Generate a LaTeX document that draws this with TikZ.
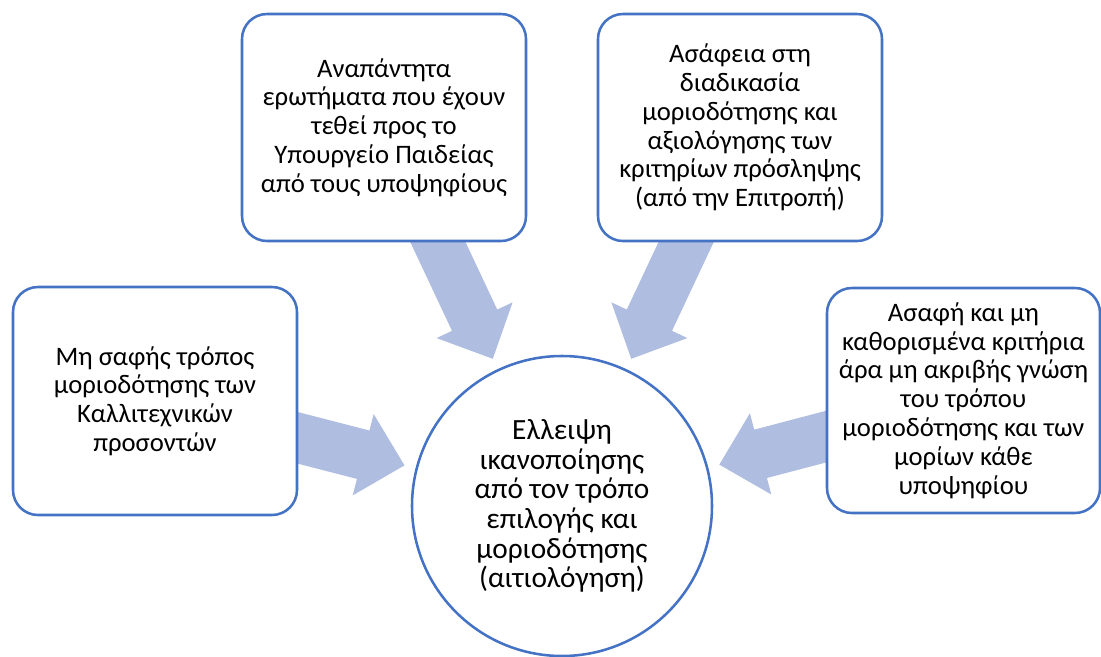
\documentclass[tikz,border=0pt]{standalone}
\usepackage{fontspec}
\setmainfont{Carlito}
\usetikzlibrary{calc}
\usetikzlibrary{positioning}
\usetikzlibrary{backgrounds}
\definecolor{frame}{RGB}{68,114,196}
\definecolor{flowfill}{RGB}{175,189,224}
\tikzset{
  cause/.style={
    draw=frame, line width=1.9pt,
    fill=white,
    rounded corners=18.75pt,
    align=center,
    inner sep=0pt,
    minimum width=213pt,
    minimum height=171pt,
    font=\fontsize{20pt}{21.6pt}\selectfont
  },
  outcome/.style={
    draw=frame, line width=1.9pt,
    fill=white,
    circle,
    align=center,
    inner sep=0pt,
    minimum size=225pt,
    font=\fontsize{22pt}{22.2pt}\selectfont
  },
  flow/.style={fill=flowfill, draw=none}
}
% block arrow pointing from a cause box towards the hub
\newcommand\flowarrow[2]{%
  \coordinate (tip) at ($(#2)!122pt!(#1)$);
  \coordinate (neck) at ($(#2)!154pt!(#1)$);
  \fill[flow] (tip)
    -- ($(neck)!31.5pt!90:(#1)$) -- ($(neck)!18.75pt!90:(#1)$)
    -- ($(#1)!18.75pt!-90:(#2)$) -- ($(#1)!18.75pt!90:(#2)$)
    -- ($(neck)!18.75pt!-90:(#1)$) -- ($(neck)!31.5pt!-90:(#1)$)
    -- cycle;
}

\begin{document}
\begin{tikzpicture}[x=0.75pt,y=-0.75pt]
  \useasboundingbox (0,0) rectangle (1101,657);

  \node (hub) [outcome] at (562,506)
    {Ελλειψη\\ικανοποίησης\\από τον τρόπο\\επιλογής και\\μοριοδότησης\\(αιτιολόγηση)};
  \node (artistic) [cause] at (155,401)
    {Μη σαφής τρόπος\\μοριοδότησης των\\Καλλιτεχνικών\\προσοντών};
  \node (unanswered) [cause, minimum height=170.25pt] at (384,127.5)
    {Αναπάντητα\\ερωτήματα που έχουν\\τεθεί προς το\\Υπουργείο Παιδείας\\από τους υποψηφίους};
  \node (vague) [cause, minimum height=170.25pt] at (740,127.5)
    {Ασάφεια στη\\διαδικασία\\μοριοδότησης και\\αξιολόγησης των\\κριτηρίων πρόσληψης\\(από την Επιτροπή)};
  \node (criteria) [cause, minimum width=204.75pt, minimum height=168.75pt] at (963.5,400.5)
    {Ασαφή και μη\\καθορισμένα κριτήρια\\άρα μη ακριβής γνώση\\του τρόπου\\μοριοδότησης και των\\μορίων κάθε\\υποψηφίου};

  \begin{scope}[on background layer]
    \flowarrow{artistic}{hub}
    \flowarrow{unanswered}{hub}
    \flowarrow{vague}{hub}
    \flowarrow{criteria}{hub}
  \end{scope}
\end{tikzpicture}
\end{document}
